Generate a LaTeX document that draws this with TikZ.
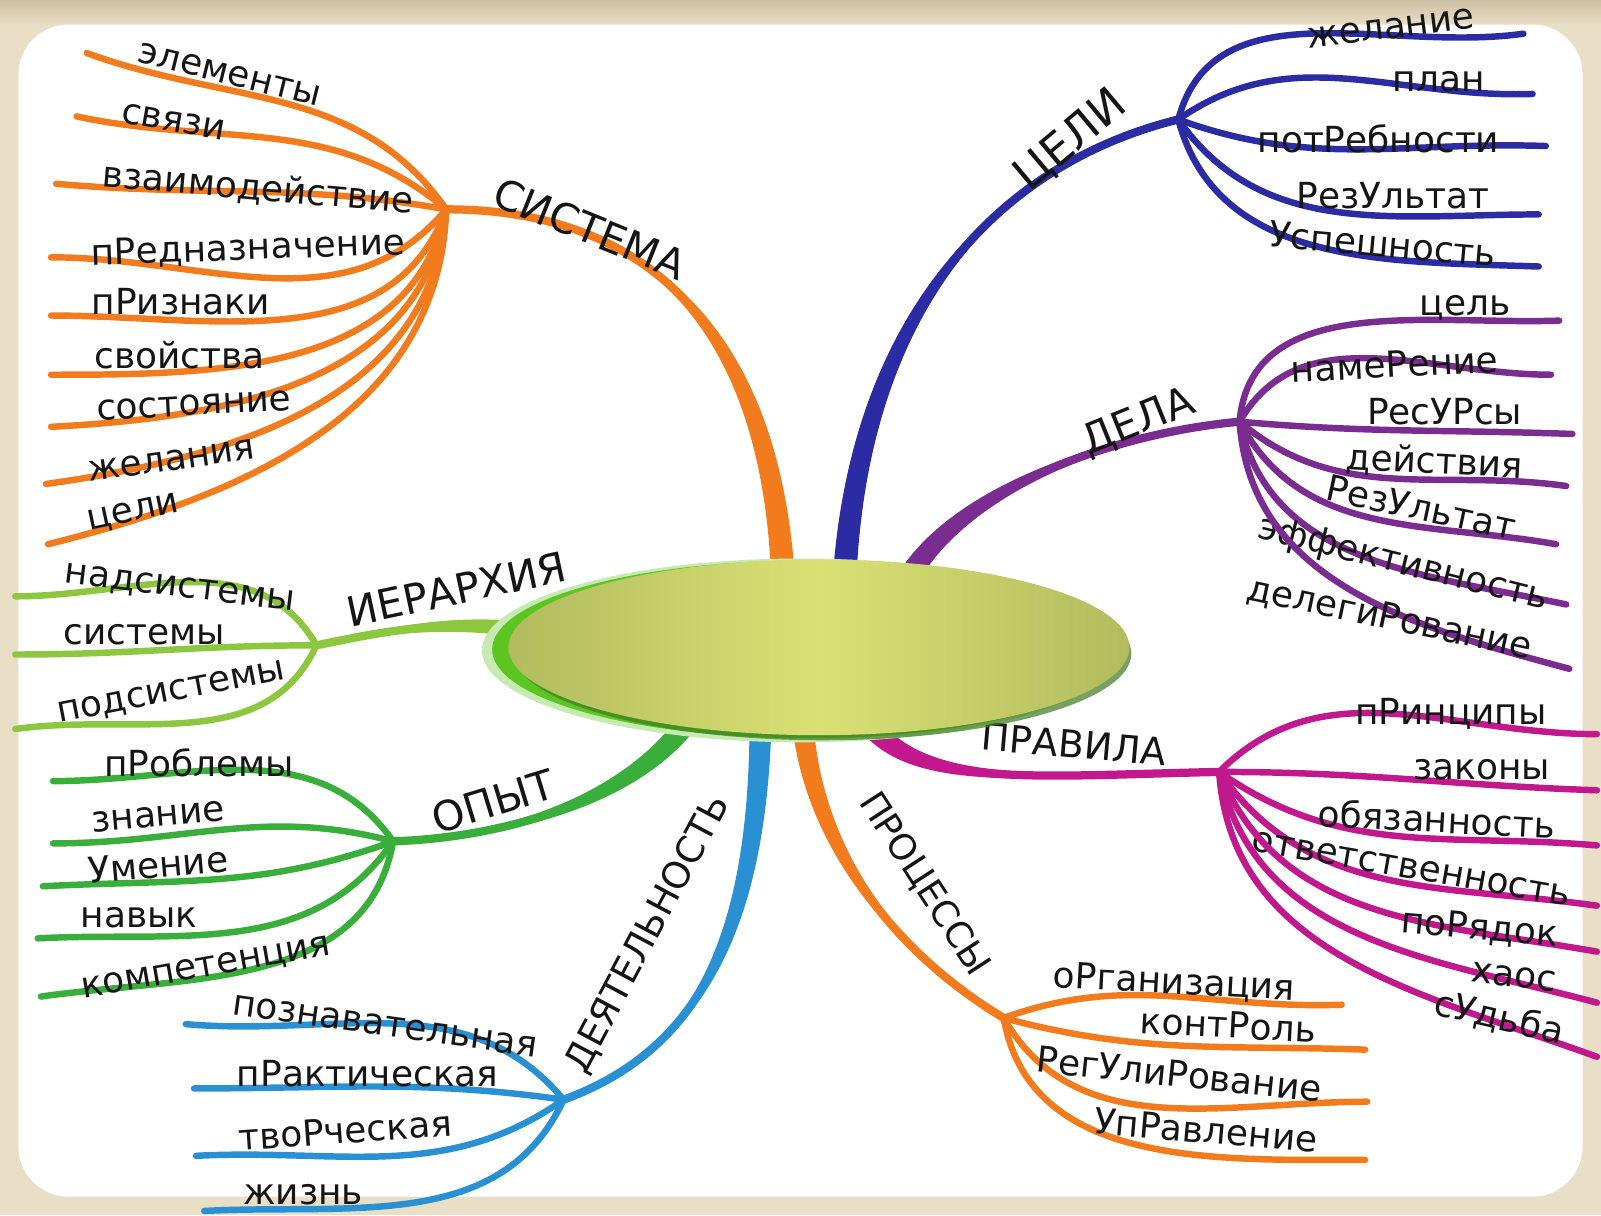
\documentclass[tikz,border=0pt]{standalone}
\usepackage{fontspec}
\setmainfont{DejaVu Sans}
\usetikzlibrary{calc,shapes.geometric}

\definecolor{sysorange}{HTML}{F27B1E}
\definecolor{goalblue}{HTML}{2B2CA3}
\definecolor{deedpurple}{HTML}{7B2C91}
\definecolor{rulemagenta}{HTML}{C1188E}
\definecolor{actblue}{HTML}{2A90D4}
\definecolor{expgreen}{HTML}{3AAE3A}
\definecolor{hierlime}{HTML}{8DC63F}
\definecolor{ink}{HTML}{151515}
\definecolor{parchment}{HTML}{E9DEC6}
\definecolor{parchdark}{HTML}{CDBFA3}
\definecolor{coreolive}{HTML}{B2BB5E}
\definecolor{corelight}{HTML}{D9E174}
\definecolor{glowgreen}{HTML}{5CC522}
\definecolor{shadegreen}{HTML}{3E7A22}

\tikzset{
  twig/.style={line width=1.8pt, line cap=round},
  leaflabel/.style={inner sep=0pt, text=ink, font=\fontsize{10}{12}\selectfont},
  limblabel/.style={inner sep=0pt, text=ink, font=\fontsize{11.5}{13}\selectfont},
  core/.style={ellipse, minimum width=6.08cm, minimum height=1.72cm, inner sep=0pt,
    left color=coreolive, right color=coreolive, middle color=corelight}
}

% thick tapering branch: colour, root, control 1, control 2, hub, half width at root
\newcommand{\limb}[6]{%
  \fill[#1] ($#2+#6$) .. controls ($#3+0.75*#6$) and ($#4+0.3*#6$) .. #5
    .. controls ($#4-0.3*#6$) and ($#3-0.75*#6$) .. ($#2-#6$) -- cycle;
  \draw[#1, line width=2.3pt, line cap=round] #2 .. controls #3 and #4 .. #5;}

\begin{document}
\begin{tikzpicture}[x=0.01cm, y=-0.01cm]
\useasboundingbox (0,0) rectangle (1568,1190);
\fill[parchment] (0,0) rectangle (1568,1190);
\shade[top color=parchdark, bottom color=parchment] (0,0) rectangle (1568,24);
\fill[white, rounded corners=14] (18,24) rectangle (1550,1172);

% hubs and roots
\coordinate (sys) at (437,205);   \coordinate (sysroot) at (768,600);
\coordinate (goal) at (1154,117); \coordinate (goalroot) at (826,600);
\coordinate (deed) at (1214,413); \coordinate (deedroot) at (875,600);
\coordinate (rule) at (1194,756); \coordinate (ruleroot) at (840,690);
\coordinate (proc) at (983,997);  \coordinate (procroot) at (785,690);
\coordinate (act) at (552,1077);  \coordinate (actroot) at (745,690);
\coordinate (exp) at (385,824);   \coordinate (exproot) at (690,680);
\coordinate (hier) at (310,632);  \coordinate (hierroot) at (560,625);

% main branches
\limb{sysorange}{(sysroot)}{(765,330)}{(640,205)}{(sys)}{(12,0)}
\limb{goalblue}{(goalroot)}{(830,330)}{(960,165)}{(goal)}{(12,0)}
\limb{deedpurple}{(deedroot)}{(905,490)}{(1080,425)}{(deed)}{(10,6)}
\limb{rulemagenta}{(ruleroot)}{(880,775)}{(1000,760)}{(rule)}{(8,-8)}
\limb{sysorange}{(procroot)}{(790,830)}{(880,935)}{(proc)}{(11,0)}
\limb{actblue}{(actroot)}{(745,920)}{(680,1030)}{(act)}{(11,0)}
\limb{expgreen}{(exproot)}{(640,780)}{(500,820)}{(exp)}{(8,8)}
\limb{hierlime}{(hierroot)}{(450,600)}{(370,620)}{(hier)}{(0,9)}

% branch names
\node[limblabel, rotate=-22] (sysname) at (578,224) {СИСТЕМА};
\node[limblabel, rotate=40, font=\fontsize{12.5}{14}\selectfont] (goalname) at (1049,138) {ЦЕЛИ};
\node[limblabel, rotate=22] (deedname) at (1115,414) {ДЕЛА};
\node[limblabel, rotate=-5, font=\fontsize{10.5}{13}\selectfont] (rulename) at (1052,729) {ПРАВИЛА};
\node[limblabel, rotate=-57, font=\fontsize{10}{12}\selectfont] (procname) at (905,866) {ПРОЦЕССЫ};
\node[limblabel, rotate=62, font=\fontsize{10.3}{12}\selectfont] (actname) at (635,915) {ДЕЯТЕЛЬНОСТЬ};
\node[limblabel, rotate=17] (expname) at (483,785) {ОПЫТ};
\node[limblabel, rotate=12] (hiername) at (447,577) {ИЕРАРХИЯ};

% leaves
\foreach \ex/\ey/\o/\i/\tx/\ty/\r/\t [count=\k] in {
  85/52/125/-20/225/73/-14/элементы,
  75/114/140/-12/170/119/-10/связи,
  55/180/170/-5/253/185/-5/взаимодействие,
  50/252/230/0/243/244/2/пРедназначение,
  50/309/250/0/177/295/0/пРизнаки,
  50/367/258/0/176/348/0/свойства,
  50/418/262/3/190/397/3/состояние,
  45/474/266/8/168/451/8/желания,
  47/533/268/14/131/503/12/цели}
{
  \coordinate (sysend\k) at (\ex,\ey);
  \draw[twig, sysorange] (sys) to[out=\o, in=\i] (sysend\k);
  \node[leaflabel, rotate=\r] (sysleaf\k) at (\tx,\ty) {\t};
}

\foreach \ex/\ey/\o/\i/\tx/\ty/\r/\t [count=\k] in {
  1492/33/75/188/1362/28/7/желание,
  1501/92/35/182/1409/80/0/план,
  1514/143/-20/178/1350/136/0/потРебности,
  1507/210/-55/180/1364/192/0/РезУльтат,
  1507/261/-75/178/1354/239/-5/Успешность}
{
  \coordinate (goalend\k) at (\ex,\ey);
  \draw[twig, goalblue] (goal) to[out=\o, in=\i] (goalend\k);
  \node[leaflabel, rotate=\r] (goalleaf\k) at (\tx,\ty) {\t};
}

\foreach \ex/\ey/\o/\i/\tx/\ty/\r/\t [count=\k] in {
  1527/314/85/182/1435/302/0/цель,
  1519/367/60/180/1366/357/3/намеРение,
  1540/425/-5/178/1415/403/0/РесУРсы,
  1534/476/-40/172/1405/453/-3/действия,
  1524/533/-62/170/1392/497/-12/РезУльтат,
  1534/592/-78/168/1374/553/-14/эффективность,
  1537/655/-86/165/1361/606/-12/делегиРование}
{
  \coordinate (deedend\k) at (\ex,\ey);
  \draw[twig, deedpurple] (deed) to[out=\o, in=\i] (deedend\k);
  \node[leaflabel, rotate=\r] (deedleaf\k) at (\tx,\ty) {\t};
}

\foreach \ex/\ey/\o/\i/\tx/\ty/\r/\t [count=\k] in {
  1564/719/45/180/1421/699/0/пРинципы,
  1564/774/0/178/1451/754/0/законы,
  1564/828/-35/175/1407/802/-3/обязанность,
  1564/887/-55/172/1382/851/-10/ответственность,
  1564/932/-68/170/1449/910/-5/поРядок,
  1564/982/-78/165/1483/957/-7/хаос,
  1564/1035/-86/160/1468/997/-13/сУдьба}
{
  \coordinate (ruleend\k) at (\ex,\ey);
  \draw[twig, rulemagenta] (rule) to[out=\o, in=\i] (ruleend\k);
  \node[leaflabel, rotate=\r] (ruleleaf\k) at (\tx,\ty) {\t};
}

\foreach \ex/\ey/\o/\i/\tx/\ty/\r/\t [count=\k] in {
  1314/984/20/182/1150/963/-3/оРганизация,
  1337/1028/-15/178/1203/1004/-3/контРоль,
  1339/1079/-60/180/1155/1052/-6/РегУлиРование,
  1337/1136/-80/180/1181/1107/-5/УпРавление}
{
  \coordinate (procend\k) at (\ex,\ey);
  \draw[twig, sysorange] (proc) to[out=\o, in=\i] (procend\k);
  \node[leaflabel, rotate=\r] (procleaf\k) at (\tx,\ty) {\t};
}

\foreach \ex/\ey/\o/\i/\tx/\ty/\r/\t [count=\k] in {
  182/1003/130/-5/377/1005/-8/познавательная,
  190/1066/172/0/360/1052/0/пРактическая,
  192/1132/215/3/338/1107/4/твоРческая,
  200/1186/245/3/297/1170/0/жизнь}
{
  \coordinate (actend\k) at (\ex,\ey);
  \draw[twig, actblue] (act) to[out=\o, in=\i] (actend\k);
  \node[leaflabel, rotate=\r] (actleaf\k) at (\tx,\ty) {\t};
}

\foreach \ex/\ey/\o/\i/\tx/\ty/\r/\t [count=\k] in {
  52/765/125/0/195/747/0/пРоблемы,
  52/826/165/0/155/800/5/знание,
  42/868/200/3/155/847/5/Умение,
  37/919/235/3/136/899/0/навык,
  40/976/260/8/202/949/10/компетенция}
{
  \coordinate (expend\k) at (\ex,\ey);
  \draw[twig, expgreen] (exp) to[out=\o, in=\i] (expend\k);
  \node[leaflabel, rotate=\r] (expleaf\k) at (\tx,\ty) {\t};
}

\foreach \ex/\ey/\o/\i/\tx/\ty/\r/\t [count=\k] in {
  15/584/120/0/176/577/-7/надсистемы,
  15/641/180/0/141/622/0/системы,
  15/714/245/8/168/679/11/подсистемы}
{
  \coordinate (hierend\k) at (\ex,\ey);
  \draw[twig, hierlime] (hier) to[out=\o, in=\i] (hierend\k);
  \node[leaflabel, rotate=\r] (hierleaf\k) at (\tx,\ty) {\t};
}

% centre
\fill[glowgreen!35] (784,637) ellipse [x radius=312, y radius=90];
\fill[glowgreen] (790,636) ellipse [x radius=308, y radius=87];
\fill[shadegreen, opacity=0.7] (806,640) ellipse [x radius=302, y radius=85];
\node[core] (centre) at (802,634) {};
\end{tikzpicture}
\end{document}
